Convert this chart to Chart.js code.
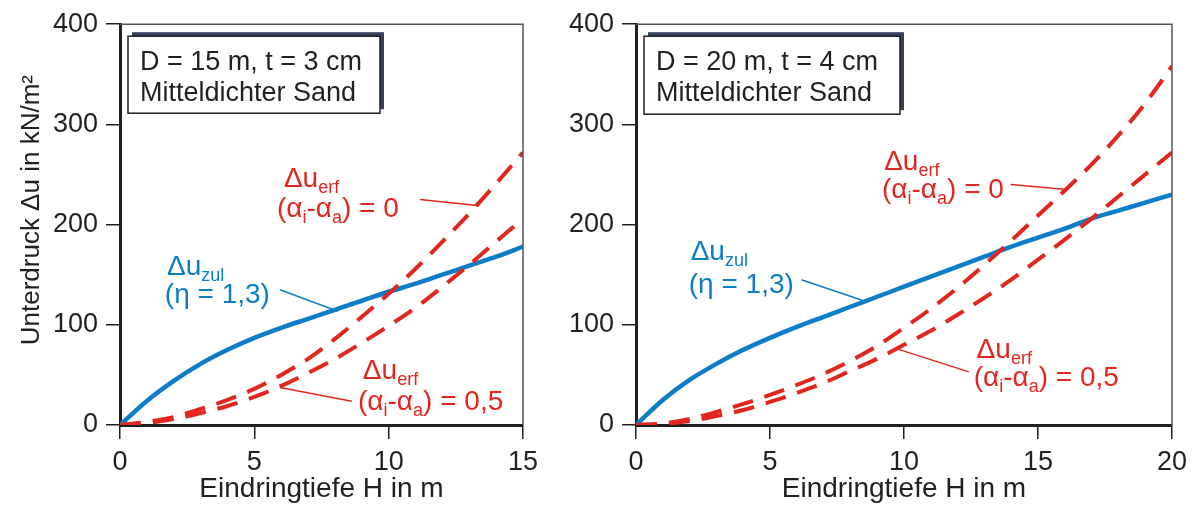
<!DOCTYPE html>
<html>
<head>
<meta charset="utf-8">
<script src="https://cdn.jsdelivr.net/npm/chart.js@4.4.0/dist/chart.umd.min.js"></script>
<style>
  body { margin: 0; background: #fff; }
  canvas { position: absolute; top: 0; }
  #left { left: 0; }
  #right { left: 560px; }
</style>
</head>
<body>
<canvas id="left" width="560" height="508"></canvas>
<canvas id="right" width="634" height="508"></canvas>
<script>
// Eindringtiefe H in m
const hLeft = [0, 1, 2, 3, 4, 5, 6, 7, 8, 9, 10, 11, 12, 13, 14, 15];
const hRight = [0, 1, 2, 3, 4, 5, 6, 7, 8, 9, 10, 11, 12, 13, 14, 15, 16, 17, 18, 19, 20];

// D = 15 m, t = 3 cm
const zulLeft = [0, 24, 44, 61, 75, 87, 97, 106, 115, 124, 133, 141, 150, 159, 168, 178];
const erf0Left = [0, 3, 8, 16, 25, 36, 50, 66, 86, 108, 131, 156, 183, 211, 241, 272];
const erf05Left = [0, 2, 6, 12, 19, 28, 39, 52, 66, 82, 99, 117, 138, 160, 183, 206];

// D = 20 m, t = 4 cm
const zulRight = [0, 25, 45, 61, 75, 87, 98, 108, 118, 128, 138, 148, 158, 168, 178, 187, 196, 206, 214, 222, 230];
const erf0Right = [0, 1.5, 6, 13, 21, 30, 40, 51, 64, 79, 97, 116, 137, 160, 184, 209, 234, 260, 289, 321, 358];
const erf05Right = [0, 1, 4, 9, 15, 23, 32, 42, 54, 66, 80, 94, 110, 127, 145, 165, 185, 206, 228, 250, 272];

const FONT = '"Liberation Sans", Arial, sans-serif';
const INK = '#231f20';
const BLUE = '#0d7dc8';
const RED = '#e2261f';

const ALPHA0 = [['(α', 0], ['i', 1], ['-α', 0], ['a', 1], [') = 0', 0]];
const ALPHA05 = [['(α', 0], ['i', 1], ['-α', 0], ['a', 1], [') = 0,5', 0]];
const ERF = [['Δu', 0], ['erf', 1]];
const ZUL = [['Δu', 0], ['zul', 1]];
const ETA = [['(η = 1,3)', 0]];

function drawRuns(ctx, x, y, runs) {
  const base = y + 10;
  let cx = x;
  runs.forEach(([t, sub]) => {
    ctx.font = (sub ? 18 : 28) + 'px ' + FONT;
    ctx.fillText(t, cx, sub ? base + 6 : base);
    cx += ctx.measureText(t).width;
  });
}

const notes = {
  id: 'notes',
  afterDatasetsDraw(chart, args, opts) {
    const ctx = chart.ctx;
    const a = chart.chartArea;
    const xs = chart.scales.x, ys = chart.scales.y;
    ctx.save();

    // thin frame top and right
    ctx.strokeStyle = '#555';
    ctx.lineWidth = 1.5;
    ctx.beginPath();
    ctx.moveTo(a.left, a.top);
    ctx.lineTo(a.right, a.top);
    ctx.lineTo(a.right, a.bottom);
    ctx.stroke();

    // info box with shadow
    const b = opts.box;
    const bx = a.left + b.x, by = a.top + b.y;
    ctx.fillStyle = '#35405e';
    ctx.fillRect(bx + 4, by - 4, b.w, b.h);
    ctx.fillStyle = '#fff';
    ctx.fillRect(bx, by, b.w, b.h);
    ctx.strokeStyle = INK;
    ctx.lineWidth = 1.5;
    ctx.strokeRect(bx, by, b.w, b.h);
    ctx.fillStyle = INK;
    ctx.font = '27px ' + FONT;
    ctx.textBaseline = 'alphabetic';
    b.lines.forEach((t, i) => ctx.fillText(t, bx + 12, by + 34 + i * 31));

    // leader lines
    ctx.lineWidth = 1.5;
    opts.leaders.forEach(l => {
      ctx.strokeStyle = l.c;
      ctx.beginPath();
      ctx.moveTo(xs.getPixelForValue(l.from[0]), ys.getPixelForValue(l.from[1]));
      ctx.lineTo(xs.getPixelForValue(l.to[0]), ys.getPixelForValue(l.to[1]));
      ctx.stroke();
    });

    // curve labels
    opts.labels.forEach(l => {
      ctx.fillStyle = l.c;
      drawRuns(ctx, xs.getPixelForValue(l.x), ys.getPixelForValue(l.y), l.runs);
    });
    ctx.restore();
  }
};

function series(h, vals) {
  return h.map((x, i) => ({ x: x, y: vals[i] }));
}

function makeChart(id, h, zul, erf0, erf05, xMax, yWidth, padRight, yTitle, noteOpts) {
  const dashed = { borderColor: RED, borderWidth: 4, borderDash: [21, 12], pointRadius: 0, cubicInterpolationMode: 'monotone', fill: false };
  new Chart(document.getElementById(id), {
    type: 'line',
    data: {
      datasets: [
        Object.assign({ label: 'Δu erf (αi-αa) = 0', data: series(h, erf0) }, dashed),
        Object.assign({ label: 'Δu erf (αi-αa) = 0,5', data: series(h, erf05) }, dashed),
        { label: 'Δu zul (η = 1,3)', data: series(h, zul), borderColor: BLUE, borderWidth: 4.5, pointRadius: 0, cubicInterpolationMode: 'monotone', fill: false }
      ]
    },
    options: {
      responsive: false,
      animation: false,
      devicePixelRatio: 1,
      layout: { padding: { top: 20, right: padRight, left: 0, bottom: 0 } },
      plugins: { legend: { display: false }, tooltip: { enabled: false }, notes: noteOpts },
      scales: {
        x: {
          type: 'linear', min: 0, max: xMax,
          afterFit: s => { s.height = 83; },
          ticks: { stepSize: 5, padding: 7, color: INK, font: { size: 27, family: FONT } },
          grid: { drawOnChartArea: false, drawTicks: true, tickLength: 14, color: INK, lineWidth: 1.5 },
          border: { display: true, width: 3, color: INK },
          title: { display: true, text: 'Eindringtiefe H in m', color: INK, font: { size: 28, family: FONT }, padding: { top: 0, bottom: 2 } }
        },
        y: {
          min: 0, max: 400,
          afterFit: s => { s.width = yWidth; },
          ticks: { stepSize: 100, padding: 8, color: INK, font: { size: 27, family: FONT } },
          grid: { drawOnChartArea: false, drawTicks: true, tickLength: 14, color: INK, lineWidth: 1.5 },
          border: { display: true, width: 3, color: INK },
          title: { display: !!yTitle, text: yTitle || '', color: INK, font: { size: 26, family: FONT }, padding: { top: 16, bottom: 0 } }
        }
      }
    },
    plugins: [notes]
  });
}

makeChart('left', hLeft, zulLeft, erf0Left, erf05Left, 15, 120, 37, '    Unterdruck Δu in kN/m²', {
  box: { x: 8, y: 12, w: 252, h: 77, lines: ['D = 15 m, t = 3 cm', 'Mitteldichter Sand'] },
  leaders: [
    { from: [5.95, 135], to: [8.11, 113.6], c: BLUE },
    { from: [11.17, 225], to: [13.29, 219], c: RED },
    { from: [5.95, 37.5], to: [8.63, 23.7], c: RED }
  ],
  labels: [
    { x: 1.75, y: 160, c: BLUE, runs: ZUL },
    { x: 1.67, y: 132, c: BLUE, runs: ETA },
    { x: 6.1, y: 248, c: RED, runs: ERF },
    { x: 5.84, y: 218, c: RED, runs: ALPHA0 },
    { x: 9.04, y: 56, c: RED, runs: ERF },
    { x: 8.86, y: 25, c: RED, runs: ALPHA05 }
  ]
});

makeChart('right', hRight, zulRight, erf0Right, erf05Right, 20, 76, 20, null, {
  box: { x: 8, y: 12, w: 256, h: 78, lines: ['D = 20 m, t = 4 cm', 'Mitteldichter Sand'] },
  leaders: [
    { from: [6.17, 145], to: [8.55, 123.5], c: BLUE },
    { from: [13.98, 240], to: [16.06, 235], c: RED },
    { from: [9.74, 76], to: [12.42, 53], c: RED }
  ],
  labels: [
    { x: 2.04, y: 175, c: BLUE, runs: ZUL },
    { x: 1.97, y: 142, c: BLUE, runs: ETA },
    { x: 9.26, y: 264, c: RED, runs: ERF },
    { x: 9.18, y: 237, c: RED, runs: ALPHA0 },
    { x: 12.71, y: 77, c: RED, runs: ERF },
    { x: 12.6, y: 49, c: RED, runs: ALPHA05 }
  ]
});
</script>
</body>
</html>
